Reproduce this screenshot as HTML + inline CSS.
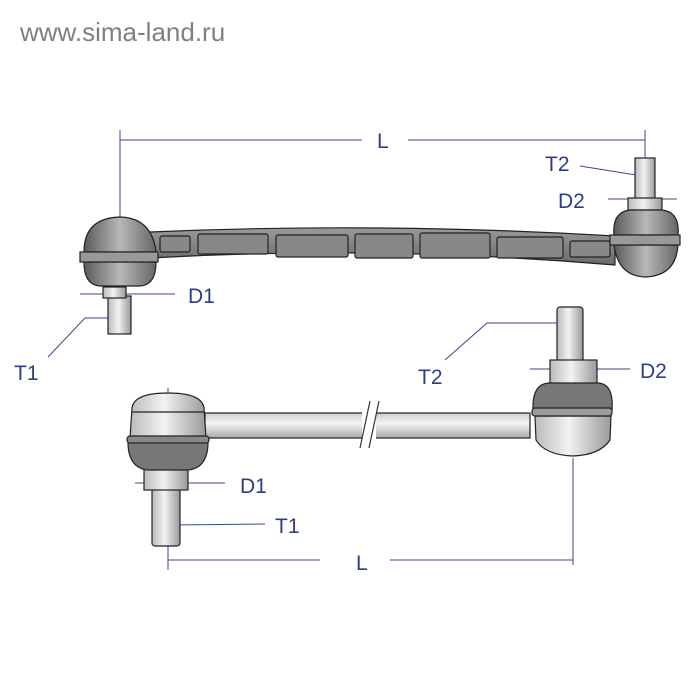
<!DOCTYPE html>
<html><head><meta charset="utf-8"><style>
body{margin:0;background:#fff;width:700px;height:700px;overflow:hidden}
svg{display:block}
text{font-family:"Liberation Sans",sans-serif}
</style></head><body>
<svg width="700" height="700" viewBox="0 0 700 700">
<defs>
<linearGradient id="g" x1="0" x2="1"><stop offset="0" stop-color="#5a5a5a"/><stop offset=".5" stop-color="#b8b8b8"/><stop offset="1" stop-color="#666"/></linearGradient>
<linearGradient id="p" x1="0" x2="1"><stop offset="0" stop-color="#bbb"/><stop offset=".45" stop-color="#f2f2f2"/><stop offset="1" stop-color="#999"/></linearGradient>
<linearGradient id="bar" x1="0" y1="0" x2="0" y2="1"><stop offset="0" stop-color="#9a9a9a"/><stop offset="1" stop-color="#6a6a6a"/></linearGradient>
<linearGradient id="rod" x1="0" y1="0" x2="0" y2="1"><stop offset="0" stop-color="#ccc"/><stop offset=".4" stop-color="#f4f4f4"/><stop offset="1" stop-color="#aaa"/></linearGradient>
</defs>
<text x="20" y="41" font-size="26" fill="#808080">www.sima-land.ru</text>
<g stroke="#3a4a8a" stroke-width="1" fill="none">
<line x1="120" y1="140" x2="362" y2="140"/><line x1="408" y1="140" x2="645" y2="140"/>
<line x1="120" y1="130" x2="120" y2="250"/><line x1="645" y1="130" x2="645" y2="242"/>
<line x1="80" y1="294" x2="175" y2="294"/>
<polyline points="48,357 85,318 108,318"/>
<line x1="580" y1="166" x2="636" y2="175"/>
<line x1="608" y1="199" x2="677" y2="199"/>
<line x1="168" y1="388" x2="168" y2="570"/>
<line x1="168" y1="560" x2="320" y2="560"/><line x1="390" y1="560" x2="573" y2="560"/>
<line x1="573" y1="458" x2="573" y2="565"/>
<line x1="135" y1="483" x2="225" y2="483"/>
<line x1="172" y1="525" x2="265" y2="524"/>
<polyline points="445,360 487,323 560,323"/>
<line x1="530" y1="369" x2="550" y2="369"/><line x1="597" y1="369" x2="630" y2="369"/>
</g>
<g fill="#2e3d85" font-size="21">
<text x="377" y="148">L</text><text x="188" y="303">D1</text><text x="14" y="380">T1</text>
<text x="545" y="171">T2</text><text x="558" y="208">D2</text>
<text x="240" y="493">D1</text><text x="275" y="533">T1</text><text x="356" y="570">L</text>
<text x="418" y="384">T2</text><text x="640" y="378">D2</text>
</g>
<g stroke="#222" stroke-width="1.2">
<path d="M150 232 Q380 222 615 236 L615 265 Q380 245 150 258 Z" fill="url(#bar)"/>
<g fill="#888">
<rect x="160" y="236" width="30" height="16" rx="2"/><rect x="198" y="234" width="70" height="20" rx="2"/>
<rect x="276" y="235" width="72" height="22" rx="2"/><rect x="355" y="234" width="58" height="24" rx="2"/>
<rect x="420" y="233" width="70" height="25" rx="2"/><rect x="497" y="237" width="66" height="21" rx="2"/><rect x="570" y="241" width="40" height="16" rx="2"/>
</g>
<rect x="108" y="296" width="23" height="38" fill="url(#p)"/>
<rect x="103" y="287" width="23" height="11" fill="url(#p)"/>
<path d="M84 252 Q84 218 120 217 Q152 218 156 252 Z" fill="url(#g)"/>
<path d="M84 262 L156 262 Q156 285 140 286 L100 286 Q84 285 84 262Z" fill="url(#g)"/>
<rect x="80" y="252" width="78" height="10" fill="#999"/>
<rect x="635" y="158" width="20" height="42" fill="url(#p)"/>
<rect x="628" y="198" width="34" height="12" fill="url(#p)"/>
<path d="M614 235 Q612 212 630 210 L662 210 Q680 212 678 235Z" fill="url(#g)"/>
<path d="M614 245 L678 245 Q676 276 645 277 Q618 276 614 245Z" fill="url(#g)"/>
<rect x="610" y="235" width="70" height="10" fill="#999"/>
</g>
<g stroke="#222" stroke-width="1.2">
<rect x="205" y="413" width="325" height="25" fill="url(#rod)"/>
<rect x="152" y="488" width="28" height="58" rx="3" fill="url(#p)"/>
<rect x="144" y="466" width="44" height="24" fill="url(#p)"/>
<path d="M132 408 Q134 393 168 393 Q202 393 204 408 L206 438 L130 438Z" fill="url(#p)"/>
<line x1="132" y1="412" x2="204" y2="412"/>
<path d="M128 442 L208 442 Q208 468 188 470 L148 470 Q128 468 128 442Z" fill="#777"/>
<rect x="127" y="436" width="82" height="7" rx="3" fill="#888"/>
<rect x="557" y="307" width="26" height="55" rx="3" fill="url(#p)"/>
<rect x="550" y="360" width="47" height="24" fill="url(#p)"/>
<path d="M533 410 Q532 383 550 383 L597 383 Q614 383 612 410Z" fill="#777"/>
<path d="M535 416 L611 416 L610 440 Q600 455 573 456 Q545 455 536 440Z" fill="url(#p)"/>
<rect x="532" y="408" width="80" height="8" rx="3" fill="#999"/>
</g>
<rect x="362" y="405" width="14" height="40" fill="#fff"/>
<g stroke="#333" stroke-width="1.2"><line x1="360" y1="448" x2="370" y2="401"/><line x1="369" y1="448" x2="379" y2="401"/></g>
</svg>
</body></html>
